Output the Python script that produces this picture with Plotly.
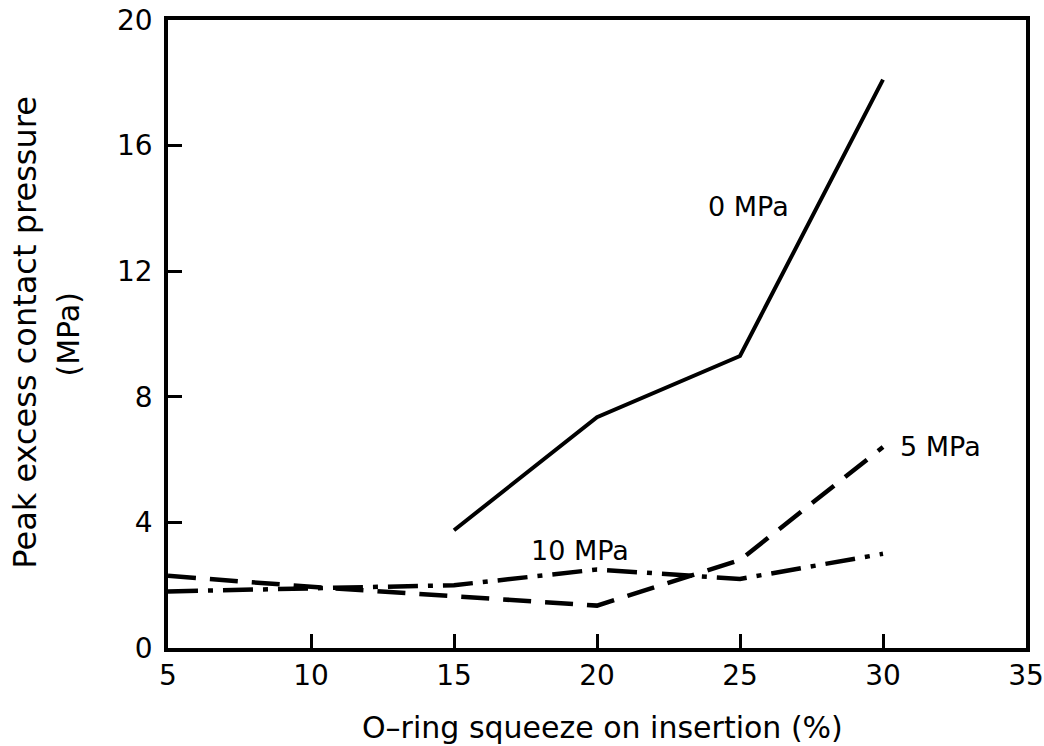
import plotly.graph_objects as go

x_vals = [5, 10, 15, 20, 25, 30]
p0_x = [15, 20, 25, 30]
p0_y = [3.75, 7.35, 9.3, 18.1]
p5_y = [2.3, 1.95, 1.65, 1.35, 2.8, 6.4]
p10_y = [1.8, 1.9, 2.0, 2.5, 2.2, 3.0]

x_ticks = [5, 10, 15, 20, 25, 30, 35]
y_ticks = [0, 4, 8, 12, 16, 20]

FONT = "DejaVu Sans, Liberation Sans, Arial, sans-serif"

fig = go.Figure()
fig.add_trace(go.Scatter(x=p0_x, y=p0_y, mode="lines",
                         line=dict(color="black", width=4), name="0 MPa"))
fig.add_trace(go.Scatter(x=x_vals, y=p5_y, mode="lines",
                         line=dict(color="black", width=4.5, dash="28px,14px"), name="5 MPa"))
fig.add_trace(go.Scatter(x=x_vals, y=p10_y, mode="lines",
                         line=dict(color="black", width=4.5, dash="30px,10px,5px,10px"), name="10 MPa"))

lab_font = dict(size=27, family=FONT, color="black")
fig.add_annotation(x=25.3, y=14.05, text="0 MPa", showarrow=False, font=lab_font)
fig.add_annotation(x=32.0, y=6.43, text="5 MPa", showarrow=False, font=lab_font)
fig.add_annotation(x=19.4, y=3.1, text="10 MPa", showarrow=False, font=lab_font)

title_font = dict(size=30, family=FONT, color="black")
ytitle_font = dict(size=32, family=FONT, color="black")
fig.add_annotation(x=0.506, y=-0.126, xref="paper", yref="paper", yanchor="middle",
                   text="O\u2013ring squeeze on insertion (%)", showarrow=False,
                   font=title_font)
fig.add_annotation(x=-0.166, y=0.503, xref="paper", yref="paper", xanchor="center",
                   text="Peak excess contact pressure", showarrow=False,
                   textangle=-90, font=ytitle_font)
fig.add_annotation(x=-0.116, y=0.5, xref="paper", yref="paper", xanchor="center",
                   text="(MPa)", showarrow=False,
                   textangle=-90, font=title_font)

tick_font = dict(size=28, family=FONT, color="black")
fig.update_xaxes(range=[5, 35], tickvals=x_ticks, ticks="inside", ticklen=14,
                 tickwidth=3, tickcolor="black", showline=True, linecolor="black",
                 linewidth=3.5, mirror=True, showgrid=False, zeroline=False,
                 tickfont=tick_font, automargin=False)
fig.update_yaxes(range=[0, 20], tickvals=y_ticks, ticks="inside", ticklen=14,
                 tickwidth=3, tickcolor="black", showline=True, linecolor="black",
                 linewidth=3.5, mirror=True, showgrid=False, zeroline=False,
                 tickfont=tick_font, ticklabelstandoff=6, automargin=False)

fig.update_layout(width=1044, height=746, plot_bgcolor="white", paper_bgcolor="white",
                  showlegend=False, margin=dict(l=168, r=18, t=20, b=98))
fig.write_html("out.html")
